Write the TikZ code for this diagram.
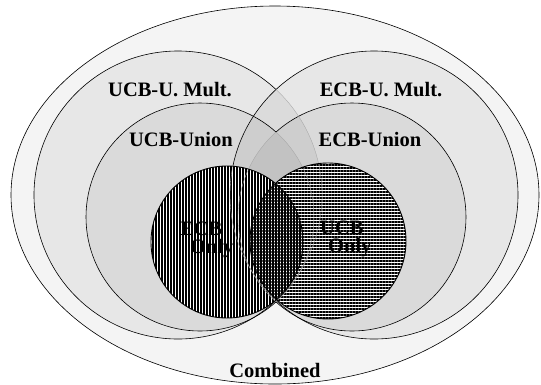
\documentclass[tikz,border=0pt]{standalone}
\usepackage{fontspec}
\setmainfont{Liberation Serif}
\usetikzlibrary{patterns.meta}

\tikzset{
	ring/.style={line width=0.6pt},
	thinring/.style={draw=gray!70, line width=0.35pt},
	setlabel/.style={font=\bfseries\fontsize{20.5}{18.5}\selectfont, inner sep=0pt, align=left},
}

\begin{document}
\begin{tikzpicture}[x=1pt, y=-1pt]
	\useasboundingbox (0,0) rectangle (541,384);

	% centres of the sets
	\coordinate (comb) at (275,195);
	\coordinate (ucbmult) at (178,195);
	\coordinate (ecbmult) at (374,195);
	\coordinate (ucbunion) at (200,217);
	\coordinate (ecbunion) at (352,217);
	\coordinate (ecbonly) at (227,242);
	\coordinate (ucbonly) at (328,241);

	% draw shaded sets
	\fill[gray!9] (comb) ellipse [x radius=264pt, y radius=189pt];
	\fill[black, fill opacity=0.05] (ucbmult) circle [radius=144pt];
	\fill[black, fill opacity=0.05] (ecbmult) circle [radius=144pt];
	\fill[black, fill opacity=0.055] (ucbunion) circle [radius=114pt];
	\fill[black, fill opacity=0.055] (ecbunion) circle [radius=114pt];

	% draw outlines
	\draw[ring] (comb) ellipse [x radius=264pt, y radius=189pt];
	\draw[ring] (ecbmult) circle [radius=144pt];
	\begin{scope}[even odd rule]
		\clip (ecbmult) circle [radius=144pt] (0,0) rectangle (541,384);
		\draw[ring] (ucbmult) circle [radius=144pt];
	\end{scope}
	\begin{scope}[even odd rule]
		\clip (ecbunion) circle [radius=114pt] (0,0) rectangle (541,384);
		\draw[ring] (ucbunion) circle [radius=114pt];
	\end{scope}
	\begin{scope}[even odd rule]
		\clip (ucbunion) circle [radius=114pt] (0,0) rectangle (541,384);
		\draw[ring] (ecbunion) circle [radius=114pt];
	\end{scope}

	% faint parts lying under another set
	\begin{scope}
		\clip (ecbmult) circle [radius=144pt];
		\draw[thinring] (ucbmult) circle [radius=144pt];
	\end{scope}
	\begin{scope}
		\clip (ecbunion) circle [radius=114pt];
		\draw[thinring] (ucbunion) circle [radius=114pt];
	\end{scope}
	\begin{scope}
		\clip (ucbunion) circle [radius=114pt];
		\draw[thinring] (ecbunion) circle [radius=114pt];
	\end{scope}

	% draw the hatched sets
	\fill[white] (ecbonly) circle [radius=76pt];
	\fill[white] (ucbonly) circle [radius=78pt];
	\fill[pattern={Lines[angle=90, distance=3pt, line width=1.15pt]}] (ecbonly) circle [radius=76pt];
	\fill[pattern={Lines[angle=0, distance=3pt, line width=1.15pt]}] (ucbonly) circle [radius=78pt];
	\begin{scope}
		\clip (ecbonly) circle [radius=76pt] (ucbonly) circle [radius=78pt];
		\draw[thinring] (ucbmult) circle [radius=144pt];
		\draw[thinring] (ecbmult) circle [radius=144pt];
		\draw[thinring] (ucbunion) circle [radius=114pt];
		\draw[thinring] (ecbunion) circle [radius=114pt];
	\end{scope}
	\draw[line width=0.9pt] (ecbonly) circle [radius=76pt];
	\draw[line width=0.9pt] (ucbonly) circle [radius=78pt];

	% labels
	\node[setlabel] (ucbmultlabel) at (170,90) {UCB-U. Mult.};
	\node[setlabel] (ecbmultlabel) at (381,90) {ECB-U. Mult.};
	\node[setlabel] (ucbunionlabel) at (181,139) {UCB-Union};
	\node[setlabel] (ecbunionlabel) at (370,139) {ECB-Union};
	\node[setlabel, anchor=west] (ecbonlylabel) at (180,240) {ECB\\\hspace*{10pt}Only};
	\node[setlabel, anchor=west] (ucbonlylabel) at (320,239) {UCB\\\hspace*{8pt}Only};
	\node[setlabel] (combinedlabel) at (275,370) {Combined};
\end{tikzpicture}
\end{document}
